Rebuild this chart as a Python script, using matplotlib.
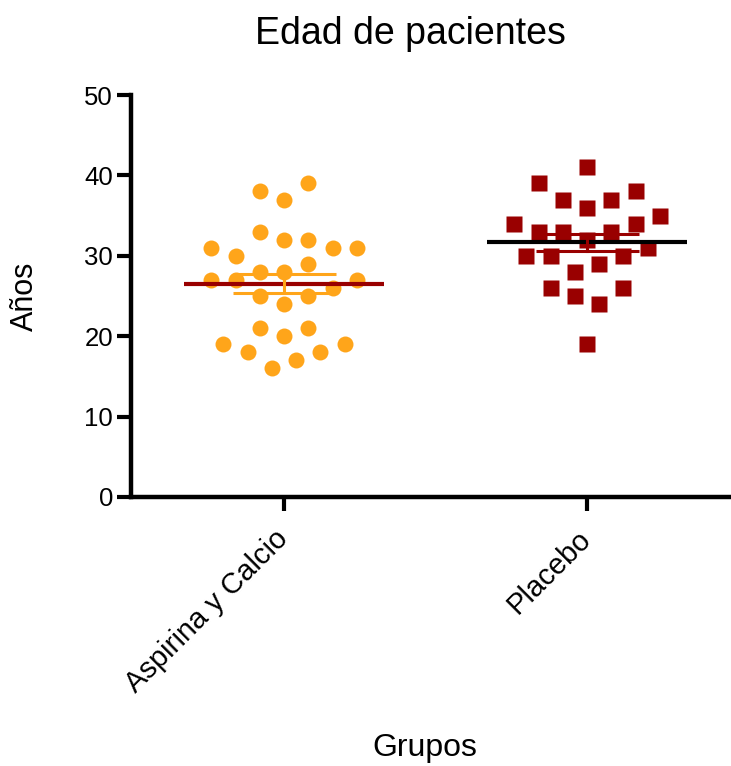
import numpy as np
import matplotlib
matplotlib.use("Agg")
import matplotlib.pyplot as plt

plt.rcParams["font.family"] = ["Liberation Sans", "DejaVu Sans"]

# ---------------------------------------------------------------------------
# Data (ages, one value per patient)
groups = ["Aspirina y Calcio", "Placebo"]

aspirina_ages = [39, 38, 37, 33, 32, 32, 31, 31, 31, 30, 29, 28, 28, 27, 27,
                 27, 26, 25, 25, 24, 21, 21, 20, 19, 19, 18, 18, 17, 16]
# horizontal scatter slot of each point (column-scatter layout)
aspirina_slots = [2, -2, 0, -2, 0, 2, -6, 4, 6, -4, 2, -2, 0, -6, -4,
                  6, 4, -2, 2, 0, -2, 2, 0, -5, 5, -3, 3, 1, -1]

placebo_ages = [41, 39, 38, 37, 37, 36, 35, 34, 34, 33, 33, 33, 32, 31, 30,
                30, 30, 29, 28, 26, 26, 25, 24, 19]
placebo_slots = [0, -4, 4, -2, 2, 0, 6, -6, 4, -4, -2, 2, 0, 5, -5,
                 -3, 3, 1, -1, -3, 3, -1, 1, 0]

yticks = [0, 10, 20, 30, 40, 50]

SLOT_W = 0.04      # data units per slot
MEAN_HW = 0.33     # half width of mean line
CAP_HW = 0.17      # half width of SEM caps

ORANGE = "#FFA51A"
DARKRED = "#990000"


def draw_group(ax, xc, ages, slots, marker, mcolor, mean_color, err_color):
    ages = np.asarray(ages, dtype=float)
    xs = xc + np.asarray(slots) * SLOT_W
    ax.plot(xs, ages, ls="none", marker=marker, ms=11.5, color=mcolor,
            mec="none", zorder=3)
    m = ages.mean()
    sem = ages.std(ddof=1) / np.sqrt(len(ages))
    ax.plot([xc - MEAN_HW, xc + MEAN_HW], [m, m], color=mean_color, lw=3.0,
            solid_capstyle="butt", zorder=4)
    ax.plot([xc, xc], [m - sem, m + sem], color=err_color, lw=2.2, zorder=4)
    for yy in (m - sem, m + sem):
        ax.plot([xc - CAP_HW, xc + CAP_HW], [yy, yy], color=err_color, lw=2.2,
                solid_capstyle="butt", zorder=4)


fig = plt.figure(figsize=(7.31, 7.66), dpi=100)
ax = fig.add_axes([131 / 731, 269 / 766, 1 - 131 / 731, 402 / 766])

draw_group(ax, 1, aspirina_ages, aspirina_slots, "o", ORANGE, DARKRED, ORANGE)
draw_group(ax, 2, placebo_ages, placebo_slots, "s", DARKRED, "black", DARKRED)

ax.set_xlim(0.495, 2.475)
ax.set_ylim(0, 50)
ax.set_yticks(yticks)
ax.set_xticks([1, 2])
ax.set_xticklabels(groups, rotation=45, ha="right", va="center",
                   rotation_mode="anchor", fontsize=21)

for s in ("top", "right"):
    ax.spines[s].set_visible(False)
for s in ("left", "bottom"):
    ax.spines[s].set_linewidth(3.2)
    ax.spines[s].set_capstyle("projecting")
ax.tick_params(axis="both", length=10, width=3.0, direction="out")
ax.tick_params(axis="y", labelsize=18.5, pad=3)
ax.tick_params(axis="x", pad=17)

ax.set_ylabel("Años", fontsize=22)
ax.yaxis.set_label_coords(-0.152, 0.5)
ax.set_xlabel("Grupos", fontsize=23)
ax.xaxis.set_label_coords(0.49, -0.588)
fig.text(410 / 731, 1 - 44 / 766, "Edad de pacientes", fontsize=27,
         ha="center", va="baseline")

fig.savefig("out.png", dpi=100)
